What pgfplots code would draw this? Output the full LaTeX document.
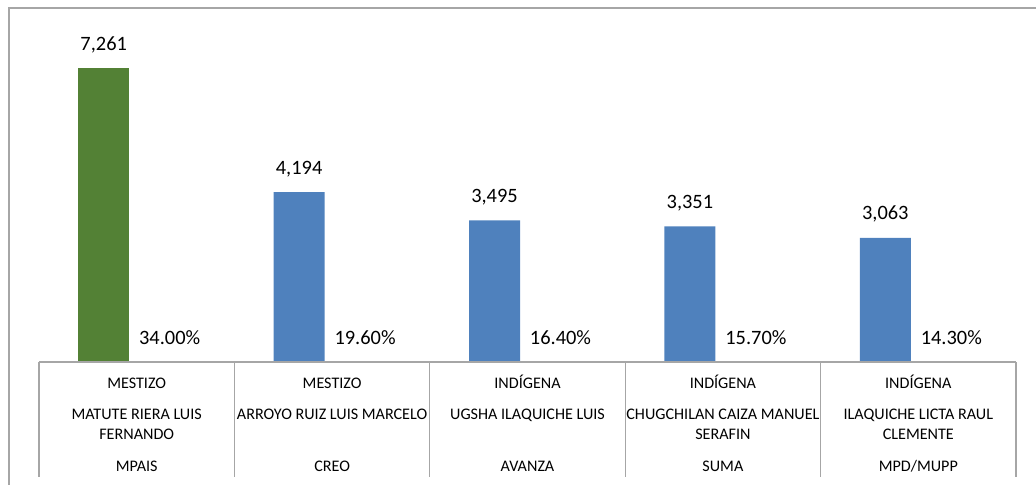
\documentclass[border=0pt]{standalone}
\usepackage{fontspec}
\setmainfont{Carlito}
\usepackage{pgfplots}
\pgfplotsset{compat=1.18}
\definecolor{bargreen}{RGB}{83,129,53}
\definecolor{barblue}{RGB}{79,129,189}
\definecolor{framegray}{RGB}{166,166,166}
\tikzset{tbl/.style={anchor=base, inner sep=0pt, font=\fontsize{12.1}{14}\selectfont}}
\begin{document}
\begin{tikzpicture}
\path[use as bounding box] (0pt,0pt) rectangle (777pt,-363.75pt);
\clip (0pt,0pt) rectangle (777pt,-363.75pt);
\draw[framegray, line width=1.1pt] (6.75pt,-6pt) rectangle (820pt,-420pt);
\begin{axis}[
  at={(29.25pt,-271.5pt)}, anchor=south west,
  scale only axis, width=732.75pt, height=265.5pt,
  xmin=-0.5, xmax=4.5, ymin=0, ymax=8743,
  hide axis, clip=false,
  ybar, bar width=38.25pt,
  /pgf/number format/.cd, 1000 sep={,}, assume math mode=true,
  /pgfplots/.cd,
  every node near coord/.append style={font=\fontsize{15.3}{18}\selectfont, anchor=base, yshift=13.5pt, inner sep=0pt},
]
\addplot[fill=bargreen, draw=none, bar shift=-24.75pt, nodes near coords] coordinates {(0,7261)};
\addplot[fill=barblue, draw=none, bar shift=-24.75pt, nodes near coords] coordinates {(1,4194) (2,3495) (3,3351) (4,3063)};
\addplot[fill=none, draw=none, bar shift=24.75pt, point meta=explicit symbolic, nodes near coords={\pgfplotspointmeta}] coordinates {
  (0,0) [34.00\%]
  (1,0) [19.60\%]
  (2,0) [16.40\%]
  (3,0) [15.70\%]
  (4,0) [14.30\%]
};
% table of categories
\draw[framegray, line width=0.8pt] (axis cs:-0.5,0) -- (axis cs:4.5,0);
\pgfplotsinvokeforeach{-0.5,0.5,1.5,2.5,3.5,4.5}{
  \draw[framegray, line width=0.8pt] (axis cs:#1,0) -- ([yshift=-86.25pt]axis cs:#1,0);
}
\node[tbl] at ([yshift=-19.5pt]axis cs:0,0) {MESTIZO};
\node[tbl] at ([yshift=-19.5pt]axis cs:1,0) {MESTIZO};
\node[tbl] at ([yshift=-19.5pt]axis cs:2,0) {INDÍGENA};
\node[tbl] at ([yshift=-19.5pt]axis cs:3,0) {INDÍGENA};
\node[tbl] at ([yshift=-19.5pt]axis cs:4,0) {INDÍGENA};
\node[tbl] at ([yshift=-42.75pt]axis cs:0,0) {MATUTE RIERA LUIS};
\node[tbl] at ([yshift=-57.75pt]axis cs:0,0) {FERNANDO};
\node[tbl] at ([yshift=-42.75pt]axis cs:1,0) {ARROYO RUIZ LUIS MARCELO};
\node[tbl] at ([yshift=-42.75pt]axis cs:2,0) {UGSHA ILAQUICHE LUIS};
\node[tbl] at ([yshift=-42.75pt]axis cs:3,0) {CHUGCHILAN CAIZA MANUEL};
\node[tbl] at ([yshift=-57.75pt]axis cs:3,0) {SERAFIN};
\node[tbl] at ([yshift=-42.75pt]axis cs:4,0) {ILAQUICHE LICTA RAUL};
\node[tbl] at ([yshift=-57.75pt]axis cs:4,0) {CLEMENTE};
\node[tbl] at ([yshift=-81.75pt]axis cs:0,0) {MPAIS};
\node[tbl] at ([yshift=-81.75pt]axis cs:1,0) {CREO};
\node[tbl] at ([yshift=-81.75pt]axis cs:2,0) {AVANZA};
\node[tbl] at ([yshift=-81.75pt]axis cs:3,0) {SUMA};
\node[tbl] at ([yshift=-81.75pt]axis cs:4,0) {MPD/MUPP};
\end{axis}
\end{tikzpicture}
\end{document}
